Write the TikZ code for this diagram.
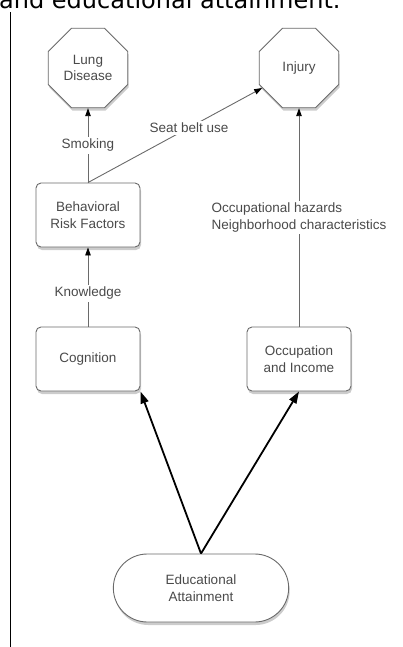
\documentclass[tikz,border=0pt]{standalone}
\usepackage{fontspec}
\setmainfont{Liberation Sans}
\newfontfamily\capfont{DejaVu Sans}
\usetikzlibrary{arrows.meta,shapes.geometric,shapes.misc,shadows}

\definecolor{txtgray}{HTML}{4A4A4A}
\definecolor{lngray}{HTML}{6A6A6A}

\tikzset{
  every node/.style={font=\fontsize{13.5}{16.5}\selectfont, text=txtgray},
  boxshadow/.style={drop shadow={shadow xshift=1pt, shadow yshift=-3pt, opacity=.4}},
  outcome/.style={regular polygon, regular polygon sides=8, draw=lngray, line width=.9pt,
    fill=white, minimum size=86pt, inner sep=0pt, align=center, boxshadow},
  factor/.style={rectangle, rounded corners=5pt, draw=lngray, line width=.9pt, fill=white,
    minimum width=104pt, minimum height=64pt, align=center, boxshadow},
  source/.style={rounded rectangle, draw=lngray, line width=.9pt, fill=white,
    minimum width=182pt, minimum height=68pt, align=center, boxshadow},
  thinarr/.style={draw=lngray, line width=.9pt, -{Triangle[length=8pt,width=5.5pt,color=black]}},
  thickarr/.style={draw=black, line width=1.8pt, -{Triangle[length=12pt,width=8pt]}},
  lbl/.style={fill=white, inner sep=2pt}
}

\begin{document}
\begin{tikzpicture}[x=1pt,y=-1pt]
\useasboundingbox (0,0) rectangle (402,647);

\node[anchor=base west, inner sep=0pt, font=\capfont\fontsize{24}{28}\selectfont, text=black]
  (cap) at (-1,9) {and educational attainment.};
\draw[line width=1.5pt] (10.5,12) -- (10.5,647);

\node[outcome] (lung) at (88,68) {Lung\\Disease};
\node[outcome] (inj) at (299,68) {Injury};

\node[factor] (beh) at (88,215) {Behavioral\\Risk Factors};
\node[factor] (cog) at (88,359) {Cognition};
\node[factor] (occ) at (299,359) {Occupation\\and Income};

\node[source] (edu) at (201,588) {Educational\\Attainment};

\draw[thinarr] (beh) -- node[lbl, pos=.5] (smk) {Smoking} (lung);
\draw[thinarr] (beh.north) -- node[lbl, pos=.58] (belt) {Seat belt use} (inj);
\draw[thinarr] (cog) -- node[lbl, pos=.42] (know) {Knowledge} (beh);
\draw[thinarr] (occ) -- node[lbl, pos=.5, align=left] (haz)
  {Occupational hazards\\Neighborhood characteristics} (inj);

\draw[thickarr] (edu.north) -- (cog.south east);
\draw[thickarr] (edu.north) -- (occ.south);
\end{tikzpicture}
\end{document}
